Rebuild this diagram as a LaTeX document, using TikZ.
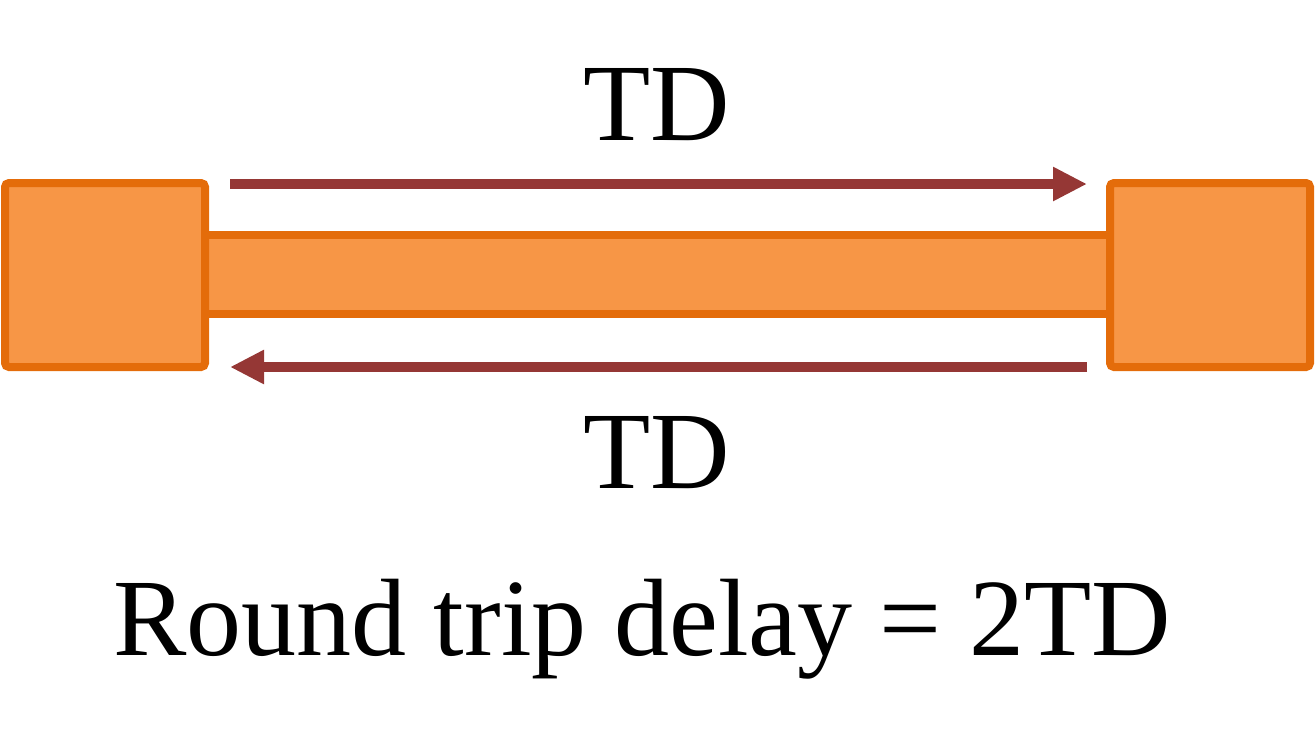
\documentclass[tikz,border=0pt]{standalone}
\usepackage{fontspec}
\setmainfont{Liberation Serif}
\usepackage{xcolor}
\definecolor{lineorange}{HTML}{F79646}
\definecolor{lineedge}{HTML}{E46C0A}
\definecolor{flowred}{HTML}{953735}
\usetikzlibrary{arrows.meta,positioning}
\tikzset{
  endbox/.style={draw=lineedge, fill=lineorange, line width=4pt,
    rounded corners=2pt, inner sep=0pt, outer sep=0pt,
    minimum width=100pt, minimum height=92pt},
  linebar/.style={draw=lineedge, fill=lineorange, line width=4pt,
    inner sep=0pt, outer sep=0pt, minimum width=452.5pt, minimum height=39.5pt},
  flow/.style={draw=flowred, line width=5pt,
    -{Triangle[length=17pt, width=16pt]}},
  bigtext/.style={font=\fontsize{55}{60}\selectfont, anchor=base, inner sep=0pt},
}

\begin{document}
\begin{tikzpicture}[x=0.5pt, y=-0.5pt]
  \useasboundingbox (0,0) rectangle (1315,751);

  % Transmission line and its two ends
  \node[linebar] (bar) at (657.5,274.5) {};
  \node[endbox] (lbox) at (105,275) {};
  \node[endbox] (rbox) at (1210,275) {};

  % Forward and return delays
  \draw[flow] ([xshift=12.5pt,yshift=-0.5pt]lbox.north east) -- ([xshift=-11.5pt,yshift=-0.5pt]rbox.north west);
  \draw[flow] ([xshift=-11.5pt]rbox.south west) -- ([xshift=12.5pt]lbox.south east);

  \node[bigtext] (tdfwd) at (657,140) {TD};
  \node[bigtext] (tdback) at (657,488) {TD};
  \node[bigtext] (caption) at (642,655) {Round trip delay = 2TD};
\end{tikzpicture}
\end{document}
